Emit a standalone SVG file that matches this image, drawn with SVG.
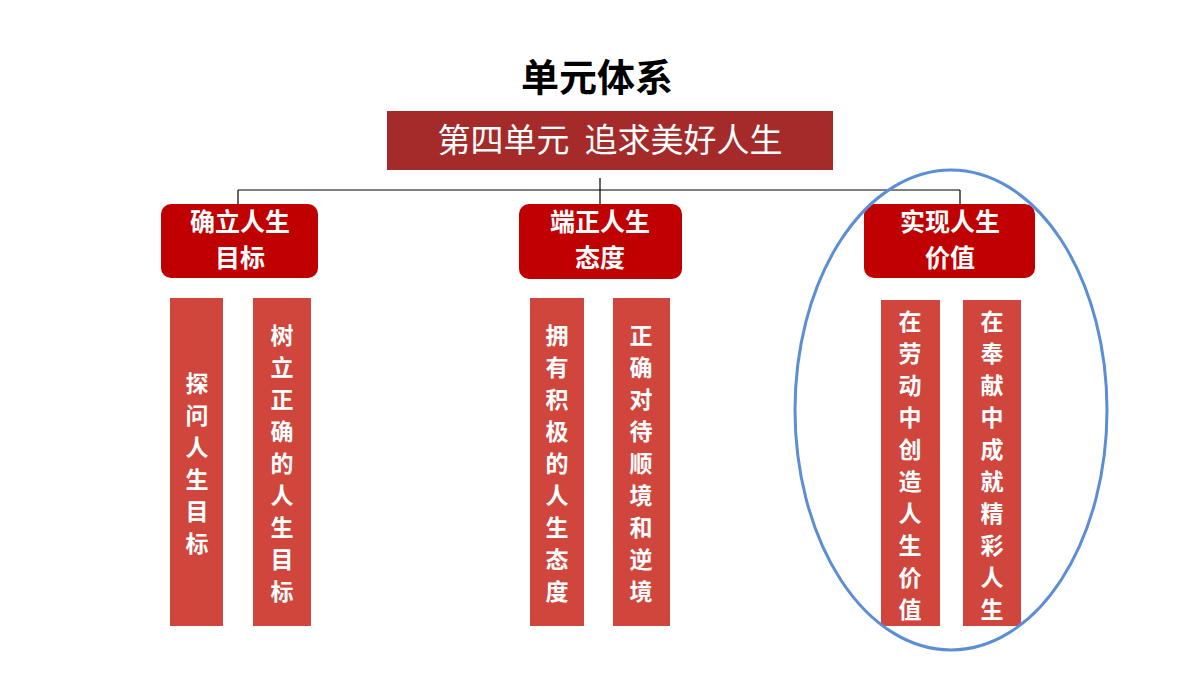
<svg xmlns="http://www.w3.org/2000/svg" width="1200" height="675" viewBox="0 0 1200 675">
<style>
text{font-family:"Noto Sans CJK SC",sans-serif;font-weight:bold;fill:#fff;text-anchor:middle}
.h{fill:#C00000}
.c{fill:#D0463C}
.v{font-size:23px}
.n{font-size:25px}
</style>
<rect width="1200" height="675" fill="#fff"/>
<text x="597" y="91" style="fill:#000;font-size:38px">单元体系</text>
<g id="top"><rect x="387" y="111" width="446" height="59" fill="#A52A2A"/><text x="610" y="152" xml:space="preserve" style="font-size:33px;font-weight:normal">第四单元  追求美好人生</text></g>
<g id="connectors" stroke="#000" stroke-width="1.2" fill="none"><path d="M600 178V190M238 190H960M238 190V204M600 190V204M960 190V204"/></g>
<g id="n1"><rect class="h" x="161" y="204" width="157" height="74" rx="10"/><text class="n" x="240" y="231">确立人生</text><text class="n" x="240" y="267">目标</text></g>
<g id="n2"><rect class="h" x="519" y="204" width="163" height="75" rx="10"/><text class="n" x="600" y="231">端正人生</text><text class="n" x="600" y="267">态度</text></g>
<g id="n3"><rect class="h" x="864" y="204" width="171" height="74" rx="10"/><text class="n" x="950" y="231">实现人生</text><text class="n" x="950" y="267">价值</text></g>
<g id="c1"><rect class="c" x="170" y="298" width="53" height="328"/><text class="v" x="197" y="392">探</text><text class="v" x="197" y="424">问</text><text class="v" x="197" y="456">人</text><text class="v" x="197" y="488">生</text><text class="v" x="197" y="520">目</text><text class="v" x="197" y="552">标</text></g>
<g id="c2"><rect class="c" x="253" y="298" width="58" height="328"/><text class="v" x="282" y="344">树</text><text class="v" x="282" y="376">立</text><text class="v" x="282" y="408">正</text><text class="v" x="282" y="440">确</text><text class="v" x="282" y="472">的</text><text class="v" x="282" y="504">人</text><text class="v" x="282" y="536">生</text><text class="v" x="282" y="568">目</text><text class="v" x="282" y="600">标</text></g>
<g id="c3"><rect class="c" x="530" y="298" width="54" height="328"/><text class="v" x="557" y="344">拥</text><text class="v" x="557" y="376">有</text><text class="v" x="557" y="408">积</text><text class="v" x="557" y="440">极</text><text class="v" x="557" y="472">的</text><text class="v" x="557" y="504">人</text><text class="v" x="557" y="536">生</text><text class="v" x="557" y="568">态</text><text class="v" x="557" y="600">度</text></g>
<g id="c4"><rect class="c" x="613" y="298" width="57" height="328"/><text class="v" x="641" y="344">正</text><text class="v" x="641" y="376">确</text><text class="v" x="641" y="408">对</text><text class="v" x="641" y="440">待</text><text class="v" x="641" y="472">顺</text><text class="v" x="641" y="504">境</text><text class="v" x="641" y="536">和</text><text class="v" x="641" y="568">逆</text><text class="v" x="641" y="600">境</text></g>
<g id="c5"><rect class="c" x="881" y="300" width="59" height="326"/><text class="v" x="910" y="330">在</text><text class="v" x="910" y="362">劳</text><text class="v" x="910" y="394">动</text><text class="v" x="910" y="426">中</text><text class="v" x="910" y="458">创</text><text class="v" x="910" y="490">造</text><text class="v" x="910" y="522">人</text><text class="v" x="910" y="554">生</text><text class="v" x="910" y="586">价</text><text class="v" x="910" y="618">值</text></g>
<g id="c6"><rect class="c" x="963" y="300" width="58" height="326"/><text class="v" x="992" y="330">在</text><text class="v" x="992" y="362">奉</text><text class="v" x="992" y="394">献</text><text class="v" x="992" y="426">中</text><text class="v" x="992" y="458">成</text><text class="v" x="992" y="490">就</text><text class="v" x="992" y="522">精</text><text class="v" x="992" y="554">彩</text><text class="v" x="992" y="586">人</text><text class="v" x="992" y="618">生</text></g>
<ellipse cx="951" cy="410" rx="156" ry="240" fill="none" stroke="#5B8ED6" stroke-width="3"/>
</svg>
